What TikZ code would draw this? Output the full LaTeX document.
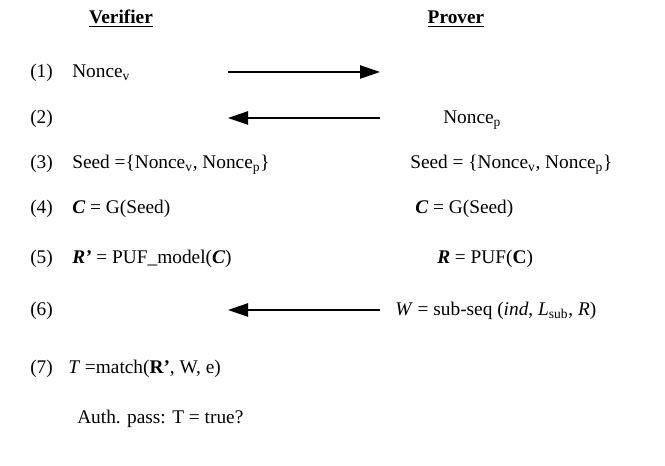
\documentclass[tikz,border=0pt]{standalone}
\usepackage{fontspec}
\setmainfont{Liberation Serif}
\usetikzlibrary{arrows.meta}
\begin{document}
\begin{tikzpicture}[x=0.75pt,y=-0.75pt,
  txt/.style={inner sep=0pt,anchor=base west,font=\fontsize{14.5}{17}\selectfont},
  hdr/.style={inner sep=0pt,anchor=base,font=\fontsize{14.5}{17}\selectfont\bfseries},
  msg/.style={line width=1pt,-{Triangle[length=15pt,width=10pt]}}]
\useasboundingbox (0,0) rectangle (665,466);
\node[hdr] (ver) at (121,24) {\underline{Verifier}};
\node[hdr] (pro) at (456,24) {\underline{Prover}};
% row labels
\node[txt] (n1) at (30,78) {(1)};
\node[txt] (n2) at (30,124) {(2)};
\node[txt] (n3) at (30,169) {(3)};
\node[txt] (n4) at (30,214) {(4)};
\node[txt] (n5) at (30,264) {(5)};
\node[txt] (n6) at (30,316) {(6)};
\node[txt] (n7) at (30,374) {(7)};
% verifier column
\node[txt] (v1) at (72,78) {Nonce\textsubscript{v}};
\node[txt] (v3) at (72,169) {Seed =\{Nonce\textsubscript{v}, Nonce\textsubscript{p}\}};
\node[txt] (v4) at (72,214) {\textbf{\textit{C}} = G(Seed)};
\node[txt] (v5) at (72,264) {\textbf{\textit{R'}} = PUF\_model(\textbf{\textit{C}})};
\node[txt] (v7) at (68,374) {\textit{T} =match(\textbf{R'}, W, e)};
\node[txt] (v8) at (77,424) {Auth. pass: T = true?};
% prover column
\node[txt] (p2) at (443,124) {Nonce\textsubscript{p}};
\node[txt] (p3) at (410,169) {Seed = \{Nonce\textsubscript{v}, Nonce\textsubscript{p}\}};
\node[txt] (p4) at (415,214) {\textbf{\textit{C}} = G(Seed)};
\node[txt] (p5) at (437,264) {\textbf{\textit{R}} = PUF(\textbf{C})};
\node[txt] (p6) at (395,316) {\textit{W} = sub-seq (\textit{ind}, \textit{L}\textsubscript{sub}, \textit{R})};
% arrows
\coordinate (a1s) at (228,72); \coordinate (a1e) at (380,72);
\coordinate (a2s) at (380,118); \coordinate (a2e) at (228,118);
\coordinate (a6s) at (380,310); \coordinate (a6e) at (228,310);
\draw[msg] (a1s) -- (a1e);
\draw[msg] (a2s) -- (a2e);
\draw[msg] (a6s) -- (a6e);
\end{tikzpicture}
\end{document}
